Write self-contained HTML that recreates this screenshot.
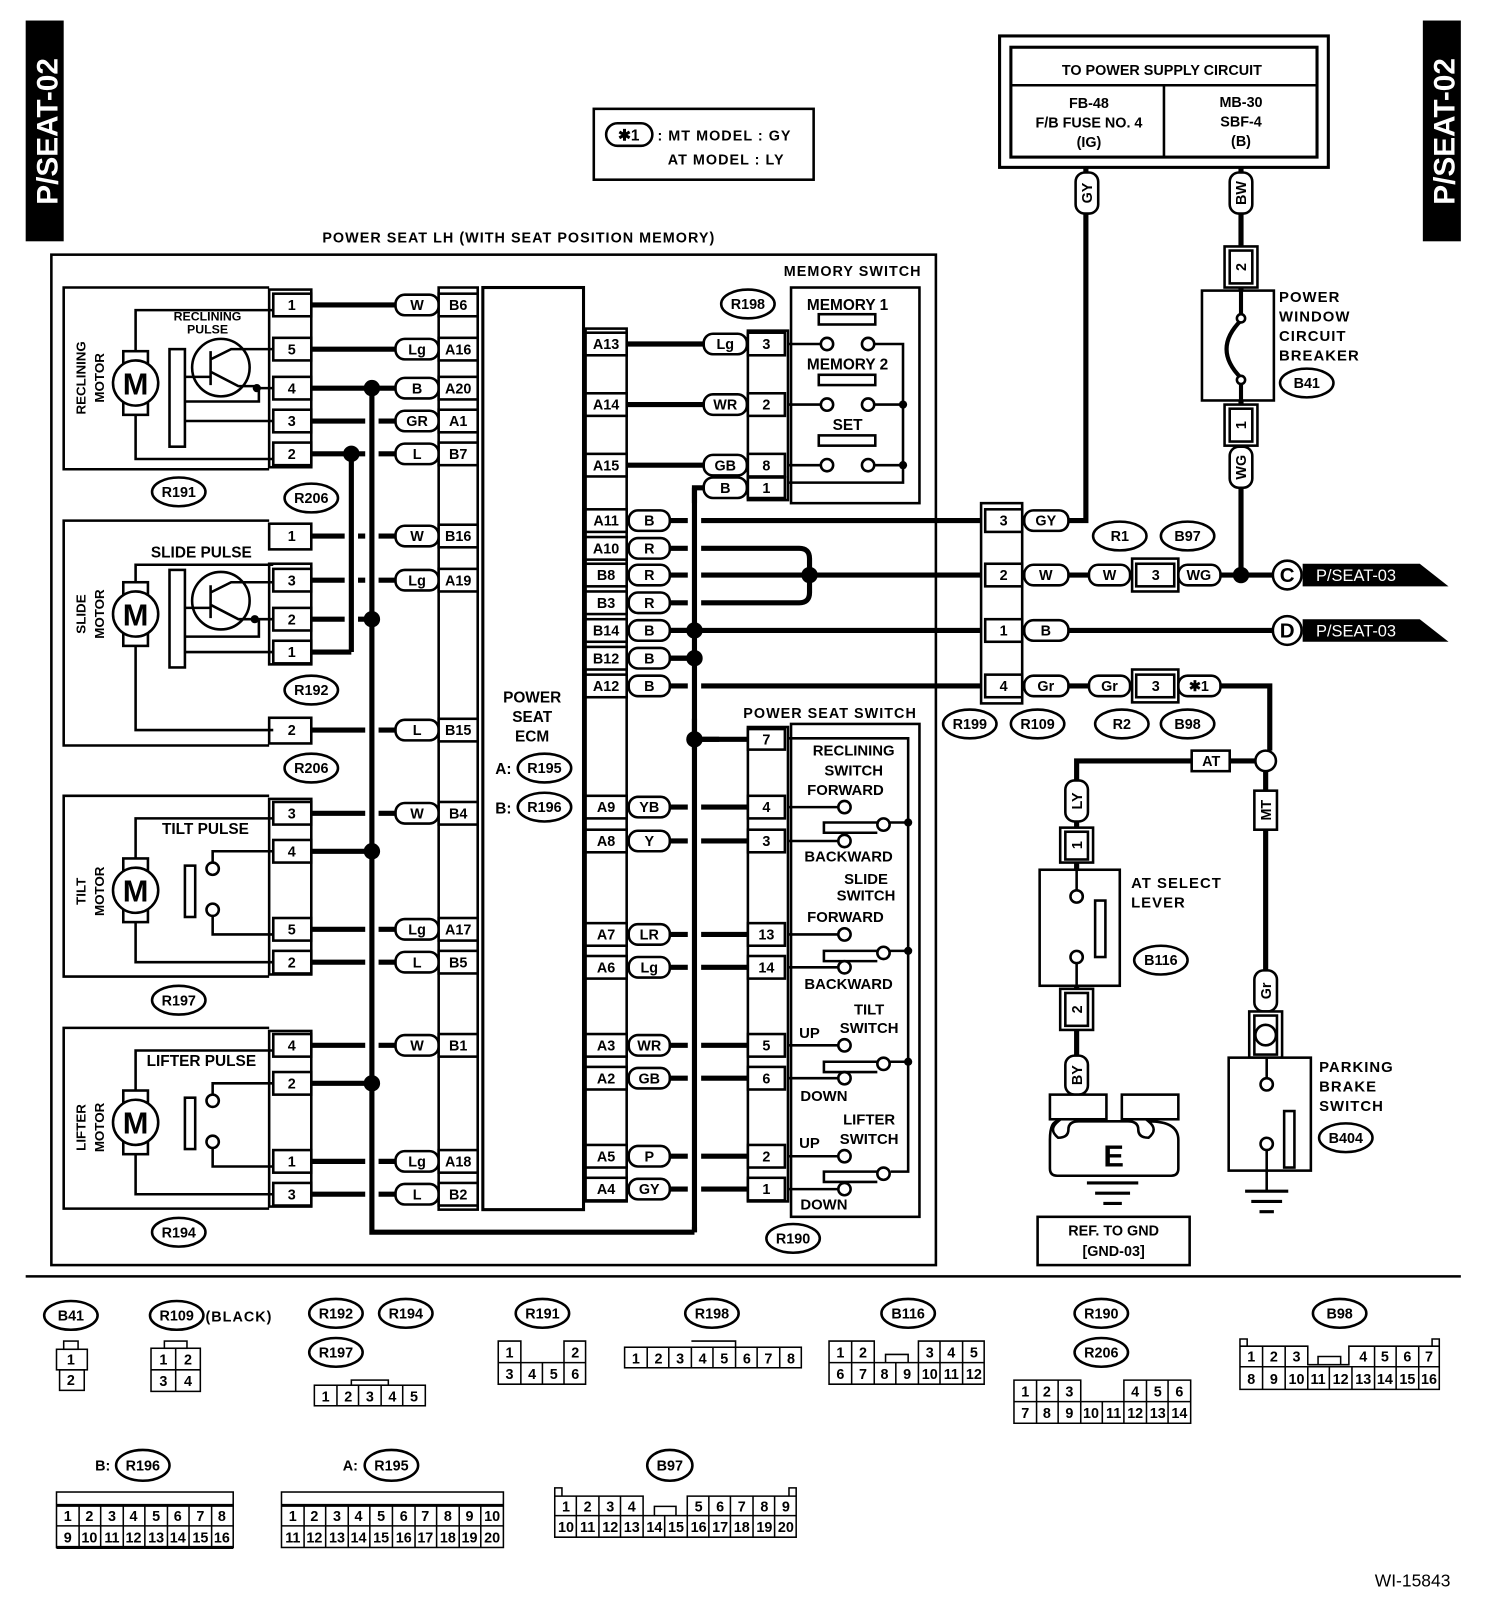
<!DOCTYPE html>
<html><head><meta charset="utf-8"><style>
html,body{margin:0;padding:0;background:#fff}
svg{display:block}
text{font-family:"Liberation Sans",sans-serif;font-weight:bold;fill:#000}
.w{stroke:#000;stroke-width:5;fill:none}
.wu{stroke:#fff;stroke-width:13;fill:none}
.l{stroke:#000;stroke-width:2.5;fill:none}
.b{stroke:#000;stroke-width:2.5;fill:#fff}
.t{font-size:15px;text-anchor:middle}
.s{font-size:14px;text-anchor:middle}
.g{font-size:14px;text-anchor:middle;font-family:"Liberation Sans Narrow","Liberation Sans",sans-serif;font-weight:normal}
.ls{font-size:15px;letter-spacing:1px}
</style></head><body>
<svg width="1504" height="1606" viewBox="0 0 1464 1564" preserveAspectRatio="none" xmlns="http://www.w3.org/2000/svg">
<!-- side labels -->
<rect x="25" y="20" width="37" height="215" fill="#000"/>
<text transform="translate(56,128) rotate(-90)" style="font-size:29px;fill:#fff;text-anchor:middle">P/SEAT-02</text>
<rect x="1385" y="20" width="37" height="215" fill="#000"/>
<text transform="translate(1416,128) rotate(-90)" style="font-size:29px;fill:#fff;text-anchor:middle">P/SEAT-02</text>

<!-- legend -->
<rect x="578" y="106" width="214" height="69" class="l"/>
<rect x="590" y="120" width="45" height="22" rx="11" class="l"/>
<text x="612" y="137" class="t">✱1</text>
<text x="640" y="137" class="ls" style="font-size:14px">: MT MODEL : GY</text>
<text x="650" y="160" class="ls" style="font-size:14px">AT MODEL  : LY</text>

<!-- power supply -->
<rect x="973" y="35" width="320" height="128" class="l" style="stroke-width:3"/>
<rect x="984" y="46" width="298" height="107" class="l" style="stroke-width:3"/>
<path d="M984 83H1282M1133 83V153" class="l"/>
<text x="1131" y="73" class="t" style="font-size:14px">TO POWER SUPPLY CIRCUIT</text>
<text x="1060" y="105" class="s">FB-48</text><text x="1060" y="124" class="s">F/B FUSE NO. 4</text><text x="1060" y="143" class="s">(IG)</text>
<text x="1208" y="104" class="s">MB-30</text><text x="1208" y="123" class="s">SBF-4</text><text x="1208" y="142" class="s">(B)</text>

<text x="505" y="236" class="t ls" style="font-size:14px">POWER SEAT LH (WITH SEAT POSITION MEMORY)</text>
<rect x="50" y="248" width="861" height="984" class="l"/>

<!-- motor boxes -->
<path d="M262 280H62V457H262M262 507H62V726H262M262 775H62V951H262M262 1001H62V1177H262" class="l"/>
<!-- connector pin blocks -->
<rect x="262" y="282" width="41" height="173" class="b"/>
<rect x="262" y="510" width="41" height="25" class="b"/>
<rect x="262" y="549" width="41" height="98" class="b"/>
<rect x="262" y="699" width="41" height="25" class="b"/>
<rect x="262" y="778" width="41" height="171" class="b"/>
<rect x="262" y="1004" width="41" height="171" class="b"/>
<g class="b">
<rect x="266" y="286" width="37" height="22"/><rect x="266" y="329" width="37" height="22"/><rect x="266" y="367" width="37" height="22"/><rect x="266" y="399" width="37" height="22"/><rect x="266" y="431" width="37" height="22"/>
<rect x="266" y="554" width="37" height="22"/><rect x="266" y="592" width="37" height="22"/><rect x="266" y="624" width="37" height="22"/>
<rect x="266" y="781" width="37" height="22"/><rect x="266" y="818" width="37" height="22"/><rect x="266" y="894" width="37" height="22"/><rect x="266" y="926" width="37" height="22"/>
<rect x="266" y="1007" width="37" height="22"/><rect x="266" y="1044" width="37" height="22"/><rect x="266" y="1120" width="37" height="22"/><rect x="266" y="1152" width="37" height="22"/>
</g>
<g class="s">
<text x="284" y="302">1</text><text x="284" y="345">5</text><text x="284" y="383">4</text><text x="284" y="415">3</text><text x="284" y="447">2</text>
<text x="284" y="527">1</text><text x="284" y="570">3</text><text x="284" y="608">2</text><text x="284" y="640">1</text><text x="284" y="716">2</text>
<text x="284" y="797">3</text><text x="284" y="834">4</text><text x="284" y="910">5</text><text x="284" y="942">2</text>
<text x="284" y="1023">4</text><text x="284" y="1060">2</text><text x="284" y="1136">1</text><text x="284" y="1168">3</text>
</g>

<!-- motor symbols -->
<g class="b">
<rect x="120" y="342" width="24" height="62"/><circle cx="132" cy="373" r="22"/>
<rect x="120" y="567" width="24" height="62"/><circle cx="132" cy="598" r="22"/>
<rect x="120" y="836" width="24" height="62"/><circle cx="132" cy="867" r="22"/>
<rect x="120" y="1062" width="24" height="62"/><circle cx="132" cy="1093" r="22"/>
</g>
<g style="font-size:30px;text-anchor:middle;font-weight:bold">
<text x="132" y="384">M</text><text x="132" y="609">M</text><text x="132" y="878">M</text><text x="132" y="1104">M</text>
</g>
<g class="t" style="font-size:13px">
<text transform="translate(83,368) rotate(-90)">RECLINING</text><text transform="translate(101,368) rotate(-90)">MOTOR</text>
<text transform="translate(83,598) rotate(-90)">SLIDE</text><text transform="translate(101,598) rotate(-90)">MOTOR</text>
<text transform="translate(83,868) rotate(-90)">TILT</text><text transform="translate(101,868) rotate(-90)">MOTOR</text>
<text transform="translate(83,1098) rotate(-90)">LIFTER</text><text transform="translate(101,1098) rotate(-90)">MOTOR</text>
</g>
<text x="202" y="312" class="s" style="font-size:12px">RECLINING</text><text x="202" y="325" class="s" style="font-size:12px">PULSE</text>
<text x="196" y="543" class="t">SLIDE PULSE</text>
<text x="200" y="812" class="t">TILT PULSE</text>
<text x="196" y="1038" class="t">LIFTER PULSE</text>
<!-- reclining internals -->
<path d="M132 342V302H266M132 404V447H266" class="l"/>
<rect x="165" y="340" width="15" height="95" class="b"/>
<circle cx="215" cy="358" r="28" class="l"/>
<path d="M180 367H205M205 342V375M205 350L225 340H266M205 362L232 376H250M180 391H252V378M180 410H266M250 378H266" class="l"/>
<circle cx="250" cy="378" r="4"/>
<!-- slide internals -->
<path d="M132 567V550H266M132 629V711H266" class="l"/>
<rect x="165" y="555" width="15" height="95" class="b"/>
<circle cx="215" cy="585" r="28" class="l"/>
<path d="M180 592H205M205 570V602M205 577L225 567H266M205 589L232 603H266M180 620H252V603M180 635H266" class="l"/>
<circle cx="248" cy="603" r="4"/>
<!-- tilt internals -->
<path d="M132 836V797H266M132 898V937H266" class="l"/>
<rect x="180" y="843" width="10" height="50" class="b"/>
<circle cx="207" cy="846" r="6" class="b"/><circle cx="207" cy="886" r="6" class="b"/>
<path d="M207 840V829H266M207 892V910H266" class="l"/>
<!-- lifter internals -->
<path d="M132 1062V1023H266M132 1124V1163H266" class="l"/>
<rect x="180" y="1069" width="10" height="50" class="b"/>
<circle cx="207" cy="1072" r="6" class="b"/><circle cx="207" cy="1112" r="6" class="b"/>
<path d="M207 1066V1055H266M207 1118V1136H266" class="l"/>

<!-- left horizontal wires -->
<path class="w" d="M303 297H386M303 340H386M303 378H386M303 410H386M303 442H386M303 522H386M303 565H386M303 603H362M303 635H342M303 711H386M303 792H386M303 829H362M303 905H386M303 937H386M303 1018H386M303 1055H362M303 1131H386M303 1163H386"/>
<!-- right side wires -->
<path class="w" d="M610 335H686M610 394H686M610 453H686M676 1200V475H686M610 786H728M610 819H728M610 910H728M610 942H728M610 1018H728M610 1050H728M610 1126H728M610 1158H728M676 720H728"/>
<path class="w" d="M652 507H955M652 534H778Q788 534 788 544V577Q788 587 778 587H652M652 560H955M652 614H955M652 641H676M652 668H955"/>
<!-- vertical buses with gaps -->
<path class="wu" d="M342 455V630M362 390V1195M676 490V700M676 730V1195"/>
<path class="w" d="M342 442V635M362 378V1200H676"/>
<path class="w" d="M676 475V1200"/>
<path class="w" d="M652 614H676M652 641H676M676 720H700"/>
<g>
<circle cx="362" cy="378" r="8"/><circle cx="342" cy="442" r="8"/><circle cx="362" cy="603" r="8"/><circle cx="362" cy="829" r="8"/><circle cx="362" cy="1055" r="8"/>
<circle cx="676" cy="614" r="8"/><circle cx="676" cy="641" r="8"/><circle cx="676" cy="720" r="8"/><circle cx="788" cy="560" r="8"/>
</g>

<!-- ECM -->
<rect x="427" y="280" width="38" height="898" class="l"/>
<rect x="470" y="280" width="98" height="898" class="l" style="stroke-width:3"/>
<rect x="570" y="320" width="40" height="850" class="l"/>
<text x="518" y="684" class="t">POWER</text><text x="518" y="703" class="t">SEAT</text><text x="518" y="722" class="t">ECM</text>
<text x="490" y="754" class="t">A:</text><ellipse cx="530" cy="748" rx="26" ry="14" class="l"/><text x="530" y="753" class="s">R195</text>
<text x="490" y="792" class="t">B:</text><ellipse cx="530" cy="786" rx="26" ry="14" class="l"/><text x="530" y="791" class="s">R196</text>

<!-- left tags + ECM cells -->
<g class="b">
<rect x="385" y="287" width="42" height="20" rx="9"/><rect x="385" y="330" width="42" height="20" rx="9"/><rect x="385" y="368" width="42" height="20" rx="9"/><rect x="385" y="400" width="42" height="20" rx="9"/><rect x="385" y="432" width="42" height="20" rx="9"/>
<rect x="385" y="512" width="42" height="20" rx="9"/><rect x="385" y="555" width="42" height="20" rx="9"/><rect x="385" y="701" width="42" height="20" rx="9"/>
<rect x="385" y="782" width="42" height="20" rx="9"/><rect x="385" y="895" width="42" height="20" rx="9"/><rect x="385" y="927" width="42" height="20" rx="9"/>
<rect x="385" y="1008" width="42" height="20" rx="9"/><rect x="385" y="1121" width="42" height="20" rx="9"/><rect x="385" y="1153" width="42" height="20" rx="9"/>
<rect x="427" y="286" width="38" height="22"/><rect x="427" y="329" width="38" height="22"/><rect x="427" y="367" width="38" height="22"/><rect x="427" y="399" width="38" height="22"/><rect x="427" y="431" width="38" height="22"/>
<rect x="427" y="511" width="38" height="22"/><rect x="427" y="554" width="38" height="22"/><rect x="427" y="700" width="38" height="22"/>
<rect x="427" y="781" width="38" height="22"/><rect x="427" y="894" width="38" height="22"/><rect x="427" y="926" width="38" height="22"/>
<rect x="427" y="1007" width="38" height="22"/><rect x="427" y="1120" width="38" height="22"/><rect x="427" y="1152" width="38" height="22"/>
</g>
<g class="s">
<text x="406" y="302">W</text><text x="406" y="345">Lg</text><text x="406" y="383">B</text><text x="406" y="415">GR</text><text x="406" y="447">L</text>
<text x="406" y="527">W</text><text x="406" y="570">Lg</text><text x="406" y="716">L</text>
<text x="406" y="797">W</text><text x="406" y="910">Lg</text><text x="406" y="942">L</text>
<text x="406" y="1023">W</text><text x="406" y="1136">Lg</text><text x="406" y="1168">L</text>
<text x="446" y="302">B6</text><text x="446" y="345">A16</text><text x="446" y="383">A20</text><text x="446" y="415">A1</text><text x="446" y="447">B7</text>
<text x="446" y="527">B16</text><text x="446" y="570">A19</text><text x="446" y="716">B15</text>
<text x="446" y="797">B4</text><text x="446" y="910">A17</text><text x="446" y="942">B5</text>
<text x="446" y="1023">B1</text><text x="446" y="1136">A18</text><text x="446" y="1168">B2</text>
</g>

<!-- right ECM cells -->
<g class="b">
<rect x="570" y="324" width="40" height="22"/><rect x="570" y="383" width="40" height="22"/><rect x="570" y="442" width="40" height="22"/>
<rect x="570" y="496" width="40" height="22"/><rect x="570" y="523" width="40" height="22"/><rect x="570" y="549" width="40" height="22"/><rect x="570" y="576" width="40" height="22"/><rect x="570" y="603" width="40" height="22"/><rect x="570" y="630" width="40" height="22"/><rect x="570" y="657" width="40" height="22"/>
<rect x="570" y="775" width="40" height="22"/><rect x="570" y="808" width="40" height="22"/><rect x="570" y="899" width="40" height="22"/><rect x="570" y="931" width="40" height="22"/><rect x="570" y="1007" width="40" height="22"/><rect x="570" y="1039" width="40" height="22"/><rect x="570" y="1115" width="40" height="22"/><rect x="570" y="1147" width="40" height="22"/>
<rect x="612" y="497" width="40" height="20" rx="9"/><rect x="612" y="524" width="40" height="20" rx="9"/><rect x="612" y="550" width="40" height="20" rx="9"/><rect x="612" y="577" width="40" height="20" rx="9"/><rect x="612" y="604" width="40" height="20" rx="9"/><rect x="612" y="631" width="40" height="20" rx="9"/><rect x="612" y="658" width="40" height="20" rx="9"/>
<rect x="612" y="776" width="40" height="20" rx="9"/><rect x="612" y="809" width="40" height="20" rx="9"/><rect x="612" y="900" width="40" height="20" rx="9"/><rect x="612" y="932" width="40" height="20" rx="9"/><rect x="612" y="1008" width="40" height="20" rx="9"/><rect x="612" y="1040" width="40" height="20" rx="9"/><rect x="612" y="1116" width="40" height="20" rx="9"/><rect x="612" y="1148" width="40" height="20" rx="9"/>
<rect x="685" y="325" width="42" height="20" rx="9"/><rect x="685" y="384" width="42" height="20" rx="9"/><rect x="685" y="443" width="42" height="20" rx="9"/><rect x="685" y="465" width="42" height="20" rx="9"/>
</g>
<g class="s">
<text x="590" y="340">A13</text><text x="590" y="399">A14</text><text x="590" y="458">A15</text>
<text x="590" y="512">A11</text><text x="590" y="539">A10</text><text x="590" y="565">B8</text><text x="590" y="592">B3</text><text x="590" y="619">B14</text><text x="590" y="646">B12</text><text x="590" y="673">A12</text>
<text x="590" y="791">A9</text><text x="590" y="824">A8</text><text x="590" y="915">A7</text><text x="590" y="947">A6</text><text x="590" y="1023">A3</text><text x="590" y="1055">A2</text><text x="590" y="1131">A5</text><text x="590" y="1163">A4</text>
<text x="632" y="512">B</text><text x="632" y="539">R</text><text x="632" y="565">R</text><text x="632" y="592">R</text><text x="632" y="619">B</text><text x="632" y="646">B</text><text x="632" y="673">B</text>
<text x="632" y="791">YB</text><text x="632" y="824">Y</text><text x="632" y="915">LR</text><text x="632" y="947">Lg</text><text x="632" y="1023">WR</text><text x="632" y="1055">GB</text><text x="632" y="1131">P</text><text x="632" y="1163">GY</text>
<text x="706" y="340">Lg</text><text x="706" y="399">WR</text><text x="706" y="458">GB</text><text x="706" y="480">B</text>
</g>

<!-- memory switch -->
<text x="830" y="269" class="t ls" style="font-size:14px">MEMORY SWITCH</text>
<ellipse cx="728" cy="296" rx="26" ry="14" class="l"/><text x="728" y="301" class="s">R198</text>
<rect x="728" y="322" width="39" height="165" class="l"/>
<g class="b"><rect x="728" y="324" width="36" height="22"/><rect x="728" y="383" width="36" height="22"/><rect x="728" y="442" width="36" height="22"/><rect x="728" y="465" width="36" height="20"/></g>
<g class="s"><text x="746" y="340">3</text><text x="746" y="399">2</text><text x="746" y="458">8</text><text x="746" y="480">1</text></g>
<rect x="770" y="280" width="125" height="210" class="l"/>
<text x="825" y="302" class="t">MEMORY 1</text><text x="825" y="360" class="t">MEMORY 2</text><text x="825" y="419" class="t">SET</text>
<g class="b"><rect x="797" y="306" width="55" height="10"/><rect x="797" y="365" width="55" height="10"/><rect x="797" y="424" width="55" height="10"/></g>
<path d="M767 335H799M851 335H879V470H767M767 394H799M851 394H879M767 453H799M851 453H879" class="l"/>
<g class="b"><circle cx="805" cy="335" r="6"/><circle cx="845" cy="335" r="6"/><circle cx="805" cy="394" r="6"/><circle cx="845" cy="394" r="6"/><circle cx="805" cy="453" r="6"/><circle cx="845" cy="453" r="6"/></g>
<circle cx="879" cy="394" r="4"/><circle cx="879" cy="453" r="4"/>

<!-- power seat switch -->
<text x="808" y="699" class="t ls" style="font-size:14px">POWER SEAT SWITCH</text>
<rect x="728" y="708" width="39" height="462" class="l"/>
<g class="b"><rect x="728" y="710" width="36" height="20"/><rect x="728" y="775" width="36" height="22"/><rect x="728" y="808" width="36" height="22"/><rect x="728" y="899" width="36" height="22"/><rect x="728" y="931" width="36" height="22"/><rect x="728" y="1007" width="36" height="22"/><rect x="728" y="1039" width="36" height="22"/><rect x="728" y="1115" width="36" height="22"/><rect x="728" y="1147" width="36" height="22"/></g>
<g class="s"><text x="746" y="725">7</text><text x="746" y="791">4</text><text x="746" y="824">3</text><text x="746" y="915">13</text><text x="746" y="947">14</text><text x="746" y="1023">5</text><text x="746" y="1055">6</text><text x="746" y="1131">2</text><text x="746" y="1163">1</text></g>
<rect x="770" y="705" width="125" height="480" class="l"/>
<path d="M767 719H884V1141H867" class="l"/>
<g class="l">
<path d="M767 786H816M767 819H816M767 910H816M767 942H816M767 1018H816M767 1050H816M767 1126H816M767 1158H816"/>
<path d="M854 801H802V811H854M866 801H884M854 926H802V936H854M866 926H884M854 1034H802V1044H854M866 1034H884M854 1141H802V1151H854"/>
</g>
<g class="b">
<circle cx="822" cy="786" r="6"/><circle cx="822" cy="819" r="6"/><circle cx="860" cy="803" r="6"/>
<circle cx="822" cy="910" r="6"/><circle cx="822" cy="942" r="6"/><circle cx="860" cy="928" r="6"/>
<circle cx="822" cy="1018" r="6"/><circle cx="822" cy="1050" r="6"/><circle cx="860" cy="1036" r="6"/>
<circle cx="822" cy="1126" r="6"/><circle cx="822" cy="1158" r="6"/><circle cx="860" cy="1143" r="6"/>
</g>
<circle cx="884" cy="801" r="4"/><circle cx="884" cy="926" r="4"/><circle cx="884" cy="1034" r="4"/>
<g class="t" style="font-size:14.5px">
<text x="831" y="736">RECLINING</text><text x="831" y="755">SWITCH</text><text x="823" y="774">FORWARD</text><text x="826" y="839">BACKWARD</text>
<text x="843" y="861">SLIDE</text><text x="843" y="877">SWITCH</text><text x="823" y="898">FORWARD</text><text x="826" y="963">BACKWARD</text>
<text x="846" y="988">TILT</text><text x="846" y="1006">SWITCH</text><text x="788" y="1011">UP</text><text x="802" y="1072">DOWN</text>
<text x="846" y="1095">LIFTER</text><text x="846" y="1114">SWITCH</text><text x="788" y="1118">UP</text><text x="802" y="1178">DOWN</text>
</g>
<ellipse cx="772" cy="1206" rx="26" ry="14" class="l"/><text x="772" y="1211" class="s">R190</text>

<!-- ref ovals -->
<g class="l">
<ellipse cx="174" cy="479" rx="26" ry="14"/><ellipse cx="303" cy="485" rx="26" ry="14"/><ellipse cx="303" cy="672" rx="26" ry="14"/><ellipse cx="303" cy="748" rx="26" ry="14"/><ellipse cx="174" cy="974" rx="26" ry="14"/><ellipse cx="174" cy="1200" rx="26" ry="14"/>
<ellipse cx="944" cy="705" rx="26" ry="14"/><ellipse cx="1010" cy="705" rx="26" ry="14"/><ellipse cx="1092" cy="705" rx="26" ry="14"/><ellipse cx="1156" cy="705" rx="26" ry="14"/>
<ellipse cx="1090" cy="522" rx="26" ry="14"/><ellipse cx="1156" cy="522" rx="26" ry="14"/><ellipse cx="1272" cy="373" rx="26" ry="14"/><ellipse cx="1130" cy="935" rx="26" ry="14"/><ellipse cx="1310" cy="1108" rx="26" ry="14"/>
</g>
<g class="s">
<text x="174" y="484">R191</text><text x="303" y="490">R206</text><text x="303" y="677">R192</text><text x="303" y="753">R206</text><text x="174" y="979">R197</text><text x="174" y="1205">R194</text>
<text x="944" y="710">R199</text><text x="1010" y="710">R109</text><text x="1092" y="710">R2</text><text x="1156" y="710">B98</text>
<text x="1090" y="527">R1</text><text x="1156" y="527">B97</text><text x="1272" y="378">B41</text><text x="1130" y="940">B116</text><text x="1310" y="1113">B404</text>
</g>

<!-- R199 connector -->
<rect x="955" y="490" width="40" height="195" class="l"/>
<g class="b"><rect x="959" y="496" width="36" height="22"/><rect x="959" y="549" width="36" height="22"/><rect x="959" y="603" width="36" height="22"/><rect x="959" y="657" width="36" height="22"/></g>
<g class="s"><text x="977" y="512">3</text><text x="977" y="565">2</text><text x="977" y="619">1</text><text x="977" y="673">4</text></g>

<!-- right wires -->
<path class="w" d="M1040 507H1057V205M1057 170V163M1040 560H1060M1100 560H1104M1188 560H1240M1208 163V240M1208 280V283M1208 390V395M1208 432V560M1040 614H1240M1040 668H1060M1188 668H1236V731M1222 741H1048V760M1048 800V808M1048 838V847M1048 960V965M1048 1000V1030M1232 751V770M1232 808V945M1232 1022V1030"/>
<circle cx="1208" cy="560" r="8"/>
<g class="b">
<rect x="997" y="497" width="43" height="20" rx="9"/><rect x="997" y="550" width="43" height="20" rx="9"/><rect x="997" y="604" width="43" height="20" rx="9"/><rect x="997" y="658" width="43" height="20" rx="9"/>
<rect x="1060" y="550" width="40" height="20" rx="9"/><rect x="1060" y="658" width="40" height="20" rx="9"/>
<rect x="1102" y="544" width="45" height="32"/><rect x="1106" y="549" width="37" height="22"/>
<rect x="1102" y="652" width="45" height="32"/><rect x="1106" y="657" width="37" height="22"/>
<rect x="1147" y="550" width="41" height="20" rx="9"/><rect x="1147" y="658" width="41" height="20" rx="9"/>
<rect x="1047" y="168" width="22" height="40" rx="9"/><rect x="1197" y="168" width="22" height="40" rx="9"/>
<rect x="1192" y="240" width="32" height="40"/><rect x="1197" y="244" width="22" height="32"/>
<rect x="1192" y="394" width="32" height="40"/><rect x="1197" y="398" width="22" height="32"/>
<rect x="1197" y="435" width="22" height="40" rx="9"/>
<rect x="1170" y="283" width="70" height="107"/>
<rect x="1160" y="731" width="37" height="20"/>
<rect x="1037" y="760" width="22" height="40" rx="9"/>
<rect x="1032" y="806" width="32" height="34"/><rect x="1037" y="810" width="22" height="27"/>
<rect x="1012" y="847" width="78" height="113"/>
<rect x="1032" y="963" width="32" height="40"/><rect x="1037" y="967" width="22" height="32"/>
<rect x="1037" y="1028" width="22" height="38" rx="9"/>
<rect x="1221" y="770" width="22" height="38"/>
<rect x="1221" y="945" width="22" height="40" rx="9"/>
<rect x="1216" y="985" width="32" height="45"/><rect x="1221" y="989" width="22" height="38"/>
<rect x="1196" y="1030" width="80" height="110"/>
</g>
<circle cx="1232" cy="741" r="10" class="b"/>
<circle cx="1232" cy="1008" r="10" class="b"/>
<g class="s">
<text x="1018" y="512">GY</text><text x="1018" y="565">W</text><text x="1018" y="619">B</text><text x="1018" y="673">Gr</text>
<text x="1080" y="565">W</text><text x="1080" y="673">Gr</text><text x="1125" y="565">3</text><text x="1125" y="673">3</text>
<text x="1167" y="565">WG</text><text x="1167" y="673">✱1</text><text x="1179" y="746">AT</text>
</g>
<g class="s">
<text transform="translate(1063,188) rotate(-90)">GY</text><text transform="translate(1213,188) rotate(-90)">BW</text>
<text transform="translate(1213,260) rotate(-90)">2</text><text transform="translate(1213,414) rotate(-90)">1</text><text transform="translate(1213,455) rotate(-90)">WG</text>
<text transform="translate(1053,780) rotate(-90)">LY</text><text transform="translate(1053,823) rotate(-90)">1</text>
<text transform="translate(1053,983) rotate(-90)">2</text><text transform="translate(1053,1047) rotate(-90)">BY</text>
<text transform="translate(1237,789) rotate(-90)">MT</text><text transform="translate(1237,965) rotate(-90)">Gr</text>
</g>
<!-- breaker symbol -->
<path d="M1208 283V308M1208 372V390M1208 312Q1180 340 1208 368" class="l" style="stroke-width:4"/>
<circle cx="1208" cy="310" r="4" class="b"/><circle cx="1208" cy="370" r="4" class="b"/>
<g class="ls" style="font-size:14.5px"><text x="1245" y="294">POWER</text><text x="1245" y="313">WINDOW</text><text x="1245" y="332">CIRCUIT</text><text x="1245" y="351">BREAKER</text>
<text x="1101" y="865">AT SELECT</text><text x="1101" y="884">LEVER</text>
<text x="1284" y="1044">PARKING</text><text x="1284" y="1063">BRAKE</text><text x="1284" y="1082">SWITCH</text></g>
<!-- P/SEAT-03 -->
<circle cx="1253" cy="560" r="14" class="b"/><text x="1253" y="567" class="t" style="font-size:20px">C</text>
<circle cx="1253" cy="614" r="14" class="b"/><text x="1253" y="621" class="t" style="font-size:20px">D</text>
<polygon points="1268,549 1382,549 1410,571 1268,571" fill="#000"/>
<polygon points="1268,603 1382,603 1410,625 1268,625" fill="#000"/>
<text x="1320" y="566" class="t" style="fill:#fff;font-size:16px;font-weight:normal">P/SEAT-03</text>
<text x="1320" y="620" class="t" style="fill:#fff;font-size:16px;font-weight:normal">P/SEAT-03</text>
<!-- AT select internals -->
<path d="M1048 847V867M1048 938V960M1233 1030V1050M1233 1120V1160" class="l"/>
<circle cx="1048" cy="873" r="6" class="b"/><circle cx="1048" cy="932" r="6" class="b"/>
<rect x="1066" y="877" width="10" height="55" class="b"/>
<circle cx="1233" cy="1056" r="6" class="b"/><circle cx="1233" cy="1114" r="6" class="b"/>
<rect x="1250" y="1082" width="10" height="55" class="b"/>
<!-- E ground -->
<rect x="1022" y="1066" width="55" height="24" class="b"/><rect x="1092" y="1066" width="55" height="24" class="b"/>
<path d="M1022 1110Q1022 1092 1030 1092Q1020 1100 1030 1108Q1040 1108 1040 1100Q1040 1092 1050 1092H1098Q1108 1092 1108 1100Q1108 1108 1118 1108Q1128 1100 1118 1092Q1147 1092 1147 1110V1138Q1147 1145 1140 1145H1029Q1022 1145 1022 1138Z" class="b"/>
<text x="1084" y="1136" class="t" style="font-size:30px">E</text>
<path d="M1058 1152H1108M1066 1162H1100M1074 1172H1092M1212 1160H1254M1218 1170H1248M1226 1180H1240" class="l" style="stroke-width:3"/>
<rect x="1010" y="1185" width="148" height="47" class="l"/>
<text x="1084" y="1203" class="s">REF. TO GND</text><text x="1084" y="1223" class="s">[GND-03]</text>

<path d="M25 1243H1422" class="l"/>

<!-- bottom connectors -->
<g class="l">
<ellipse cx="69" cy="1281" rx="26" ry="14"/><ellipse cx="172" cy="1281" rx="26" ry="14"/><ellipse cx="327" cy="1279" rx="26" ry="14"/><ellipse cx="395" cy="1279" rx="26" ry="14"/><ellipse cx="327" cy="1317" rx="26" ry="14"/>
<ellipse cx="528" cy="1279" rx="26" ry="14"/><ellipse cx="693" cy="1279" rx="26" ry="14"/><ellipse cx="884" cy="1279" rx="26" ry="14"/><ellipse cx="1072" cy="1279" rx="26" ry="14"/><ellipse cx="1072" cy="1317" rx="26" ry="14"/><ellipse cx="1304" cy="1279" rx="26" ry="14"/>
<ellipse cx="139" cy="1427" rx="26" ry="15"/><ellipse cx="381" cy="1427" rx="26" ry="15"/><ellipse cx="652" cy="1427" rx="22" ry="15"/>
</g>
<g class="s">
<text x="69" y="1286">B41</text><text x="172" y="1286">R109</text><text x="327" y="1284">R192</text><text x="395" y="1284">R194</text><text x="327" y="1322">R197</text>
<text x="528" y="1284">R191</text><text x="693" y="1284">R198</text><text x="884" y="1284">B116</text><text x="1072" y="1284">R190</text><text x="1072" y="1322">R206</text><text x="1304" y="1284">B98</text>
<text x="139" y="1432">R196</text><text x="381" y="1432">R195</text><text x="652" y="1432">B97</text>
<text x="100" y="1432">B:</text><text x="341" y="1432">A:</text>
</g>
<text x="200" y="1287" class="ls" style="font-size:14px">(BLACK)</text>
<g class="l" style="stroke-width:1.5">
<rect x="62" y="1306" width="14" height="8"/><rect x="55" y="1314" width="30" height="20"/><rect x="58" y="1334" width="24" height="20"/>
<rect x="160" y="1306" width="22" height="7"/><rect x="147" y="1313" width="48" height="42"/><path d="M171 1313V1355M147 1334H195"/>
<rect x="342" y="1344" width="36" height="5"/><rect x="306" y="1349" width="108" height="20"/><path d="M328 1349V1369M349 1349V1369M371 1349V1369M392 1349V1369"/>
<path d="M485 1306H507V1327H549V1306H570V1348H485ZM485 1327H570M507 1327V1348M528 1327V1348M549 1327V1348"/>
<rect x="608" y="1312" width="172" height="20"/><path d="M630 1312V1332M651 1312V1332M673 1312V1332M694 1312V1332M716 1312V1332M737 1312V1332M759 1312V1332M673 1306H716V1312"/>
<path d="M807 1306H851V1327H894V1306H958V1348H807ZM807 1327H958M829 1306V1348M851 1327V1348M872 1327V1348M894 1327V1348M915 1306V1348M937 1306V1348M862 1327V1319H884V1327"/>
<path d="M987 1344H1052V1365H1094V1344H1159V1386H987ZM987 1365H1159M1009 1344V1386M1030 1344V1386M1052 1365V1386M1073 1365V1386M1094 1365V1386M1116 1344V1386M1137 1344V1386"/>
<path d="M1207 1311H1273V1329H1313V1311H1401V1353H1207ZM1207 1331H1401M1229 1311V1353M1251 1311V1353M1273 1331V1353M1294 1331V1353M1316 1331V1353M1338 1311V1353M1359 1311V1353M1381 1311V1353M1207 1311V1304H1214V1311M1394 1311V1304H1401V1311M1283 1329V1321H1305V1329"/>
<rect x="55" y="1453" width="172" height="54"/><path d="M55 1466H227M55 1486H227M77 1466V1507M98 1466V1507M120 1466V1507M141 1466V1507M163 1466V1507M184 1466V1507M206 1466V1507"/>
<rect x="274" y="1453" width="216" height="54"/><path d="M274 1466H490M274 1486H490M296 1466V1507M317 1466V1507M339 1466V1507M360 1466V1507M382 1466V1507M404 1466V1507M425 1466V1507M447 1466V1507M468 1466V1507"/>
<path d="M540 1457H626V1476H669V1457H775V1497H540ZM540 1476H775M561 1457V1497M583 1457V1497M604 1457V1497M626 1476V1497M647 1476V1497M669 1476V1497M690 1457V1497M711 1457V1497M733 1457V1497M754 1457V1497M540 1457V1449H547V1457M768 1457V1449H775V1457M637 1476V1467H658V1476"/>
</g>
<path d="M55 1466H227M55 1507H227M274 1466H490" stroke="#000" stroke-width="3"/>
<g class="g">
<text x="69" y="1329">1</text><text x="69" y="1349">2</text>
<text x="159" y="1329">1</text><text x="183" y="1329">2</text><text x="159" y="1350">3</text><text x="183" y="1350">4</text>
<text x="317" y="1365">1</text><text x="339" y="1365">2</text><text x="360" y="1365">3</text><text x="382" y="1365">4</text><text x="403" y="1365">5</text>
<text x="496" y="1322">1</text><text x="560" y="1322">2</text><text x="496" y="1343">3</text><text x="518" y="1343">4</text><text x="539" y="1343">5</text><text x="560" y="1343">6</text>
<text x="619" y="1328">1</text><text x="641" y="1328">2</text><text x="662" y="1328">3</text><text x="684" y="1328">4</text><text x="705" y="1328">5</text><text x="727" y="1328">6</text><text x="748" y="1328">7</text><text x="770" y="1328">8</text>
<text x="818" y="1322">1</text><text x="840" y="1322">2</text><text x="905" y="1322">3</text><text x="926" y="1322">4</text><text x="948" y="1322">5</text>
<text x="818" y="1343">6</text><text x="840" y="1343">7</text><text x="861" y="1343">8</text><text x="883" y="1343">9</text><text x="905" y="1343">10</text><text x="926" y="1343">11</text><text x="948" y="1343">12</text>
<text x="998" y="1360">1</text><text x="1019" y="1360">2</text><text x="1041" y="1360">3</text><text x="1105" y="1360">4</text><text x="1127" y="1360">5</text><text x="1148" y="1360">6</text>
<text x="998" y="1381">7</text><text x="1019" y="1381">8</text><text x="1041" y="1381">9</text><text x="1062" y="1381">10</text><text x="1084" y="1381">11</text><text x="1105" y="1381">12</text><text x="1127" y="1381">13</text><text x="1148" y="1381">14</text>
<text x="1218" y="1326">1</text><text x="1240" y="1326">2</text><text x="1262" y="1326">3</text><text x="1327" y="1326">4</text><text x="1348" y="1326">5</text><text x="1370" y="1326">6</text><text x="1391" y="1326">7</text>
<text x="1218" y="1348">8</text><text x="1240" y="1348">9</text><text x="1262" y="1348">10</text><text x="1283" y="1348">11</text><text x="1305" y="1348">12</text><text x="1327" y="1348">13</text><text x="1348" y="1348">14</text><text x="1370" y="1348">15</text><text x="1391" y="1348">16</text>
<text x="66" y="1481">1</text><text x="87" y="1481">2</text><text x="109" y="1481">3</text><text x="130" y="1481">4</text><text x="152" y="1481">5</text><text x="173" y="1481">6</text><text x="195" y="1481">7</text><text x="216" y="1481">8</text>
<text x="66" y="1502">9</text><text x="87" y="1502">10</text><text x="109" y="1502">11</text><text x="130" y="1502">12</text><text x="152" y="1502">13</text><text x="173" y="1502">14</text><text x="195" y="1502">15</text><text x="216" y="1502">16</text>
<text x="285" y="1481">1</text><text x="306" y="1481">2</text><text x="328" y="1481">3</text><text x="349" y="1481">4</text><text x="371" y="1481">5</text><text x="393" y="1481">6</text><text x="414" y="1481">7</text><text x="436" y="1481">8</text><text x="457" y="1481">9</text><text x="479" y="1481">10</text>
<text x="285" y="1502">11</text><text x="306" y="1502">12</text><text x="328" y="1502">13</text><text x="349" y="1502">14</text><text x="371" y="1502">15</text><text x="393" y="1502">16</text><text x="414" y="1502">17</text><text x="436" y="1502">18</text><text x="457" y="1502">19</text><text x="479" y="1502">20</text>
<text x="551" y="1472">1</text><text x="572" y="1472">2</text><text x="594" y="1472">3</text><text x="615" y="1472">4</text><text x="680" y="1472">5</text><text x="701" y="1472">6</text><text x="722" y="1472">7</text><text x="744" y="1472">8</text><text x="765" y="1472">9</text>
<text x="551" y="1492">10</text><text x="572" y="1492">11</text><text x="594" y="1492">12</text><text x="615" y="1492">13</text><text x="637" y="1492">14</text><text x="658" y="1492">15</text><text x="680" y="1492">16</text><text x="701" y="1492">17</text><text x="722" y="1492">18</text><text x="744" y="1492">19</text><text x="765" y="1492">20</text>
</g>
<text x="1375" y="1545" style="font-size:17px;text-anchor:middle;font-weight:normal">WI-15843</text>
</svg>
</body></html>
